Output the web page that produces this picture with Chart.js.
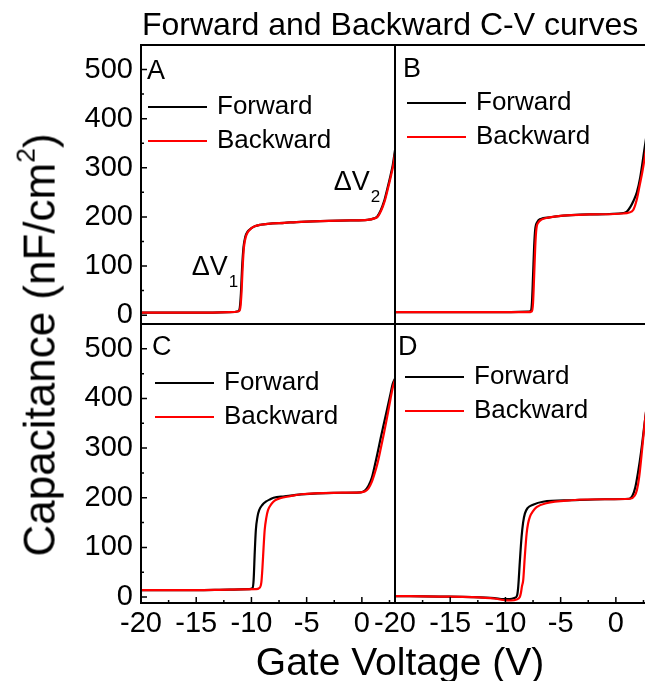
<!DOCTYPE html>
<html>
<head>
<meta charset="utf-8">
<script src="https://cdn.jsdelivr.net/npm/chart.js@4.4.1/dist/chart.umd.min.js"></script>
<style>
  body { margin: 0; background: #fff; font-family: "Liberation Sans", Arial, sans-serif; }
  #wrap { position: relative; width: 645px; height: 681px; overflow: hidden; }
  canvas { position: absolute; left: 0; top: 0; }
  .txt { position: absolute; white-space: nowrap; line-height: 1; color: #000; }
  #title { left: 142px; top: 8px; font-size: 32px; }
  #xtitle { left: 400px; top: 642px; font-size: 39px; transform: translateX(-50%); }
  #ytitle { left: 37px; top: 345px; font-size: 44px; transform: translate(-50%, -50%) rotate(-90deg); }
  #ytitle sup { font-size: 0.6em; vertical-align: 0.75em; }
</style>
</head>
<body>
<div id="wrap">
  <canvas id="pA" width="650" height="681"></canvas>
  <canvas id="pB" width="650" height="681"></canvas>
  <canvas id="pC" width="650" height="681"></canvas>
  <canvas id="pD" width="650" height="681"></canvas>
  <div class="txt" id="title">Forward and Backward C-V curves</div>
  <div class="txt" id="xtitle">Gate Voltage (V)</div>
  <div class="txt" id="ytitle">Capacitance (nF/cm<sup>2</sup>)</div>
</div>
<script>
// tick values
const xMajor = [-20, -15, -10, -5, 0];
const xMinor = [-17.5, -12.5, -7.5, -2.5, 2.5];
const yMajor = [0, 100, 200, 300, 400, 500];
const yMinor = [50, 150, 250, 350, 450];

// [gate voltage, capacitance]
const aForward = [[-20,5],[-17,5],[-14,5],[-12,6],[-11.2,8],[-11.05,16],[-10.95,45],[-10.85,95],[-10.72,138],[-10.55,160],[-10.35,170],[-10.0,177],[-9.7,181],[-9.2,184],[-8.5,186],[-7,188],[-5.5,190],[-3,192],[-1,193],[0.5,194],[1.1,197],[1.4,201],[1.7,213],[2.0,231],[2.3,257],[2.6,285],[2.8,306],[3.0,336]];
const aBackward = [[-20,5],[-17,5],[-14,5],[-12,6],[-11.15,8],[-11.0,16],[-10.9,45],[-10.8,95],[-10.68,138],[-10.5,160],[-10.3,170],[-10.0,177],[-9.7,181],[-9.2,184],[-8.5,186],[-7,188],[-5.5,190],[-3,192],[-1,193],[0.5,194],[1.15,197],[1.45,201],[1.75,213],[2.05,231],[2.35,257],[2.65,285],[2.85,306],[3.0,330]];

const bForward = [[-20,6],[-15,6],[-10,6],[-8,7],[-7.7,9],[-7.6,25],[-7.5,80],[-7.4,140],[-7.3,175],[-7.1,190],[-6.8,196],[-6,199],[-5.4,201],[-2.4,205],[0.7,208],[1.0,211],[1.3,220],[1.6,233],[1.9,250],[2.2,280],[2.6,340],[3.0,400]];
const bBackward = [[-20,6],[-15,6],[-10,6],[-8,6],[-7.6,8],[-7.5,25],[-7.4,80],[-7.3,140],[-7.2,175],[-7.0,189],[-6.7,195],[-6,199],[-5.4,201],[-2.4,205],[0.7,207],[1.2,209],[1.57,214],[1.9,236],[2.17,266],[2.4,292],[2.62,322],[3.0,380]];

const cForward = [[-20,14],[-15,14],[-12,15],[-10.2,16],[-9.9,18],[-9.8,35],[-9.7,90],[-9.6,135],[-9.45,162],[-9.3,175],[-9.0,186],[-8.7,192],[-8.3,197],[-8,200],[-7,203],[-5.5,207],[-2.5,210],[-0.1,211],[0.3,215],[0.6,224],[0.9,240],[1.1,258],[1.4,288],[1.7,320],[2.0,350],[2.3,380],[2.6,410],[2.8,430],[3.0,440]];
const cBackward = [[-20,14],[-15,14],[-12,15],[-9.6,16],[-9.3,18],[-9.1,30],[-9.0,60],[-8.9,100],[-8.8,135],[-8.65,160],[-8.5,175],[-8.2,187],[-7.9,194],[-7.4,199],[-6.5,203],[-5.5,207],[-2.5,210],[-0.1,211],[0.3,213],[0.6,219],[0.9,232],[1.1,245],[1.4,268],[1.7,298],[2.0,330],[2.3,364],[2.6,400],[2.8,422],[3.0,438]];

const dForward = [[-20,2],[-16,1],[-13,0],[-11,-2],[-10.2,-4],[-9.6,-4],[-9.2,-2],[-8.95,3],[-8.84,21],[-8.7,70],[-8.54,121],[-8.4,150],[-8.24,168],[-8.0,179],[-7.5,186],[-6.6,192],[-4,195],[-1,197],[1.2,198],[1.5,204],[1.75,220],[2.0,250],[2.3,295],[2.6,350],[3.0,420]];
const dBackward = [[-20,2],[-16,1],[-13,0],[-11,-3],[-10.2,-6],[-9.5,-7],[-9.0,-5],[-8.7,0],[-8.6,8],[-8.5,22],[-8.39,34],[-8.25,80],[-8.08,128],[-7.95,148],[-7.78,162],[-7.5,173],[-7.18,181],[-6.3,189],[-4,195],[-1,197],[1.3,198],[1.7,204],[1.9,215],[2.1,240],[2.32,285],[2.62,352],[3.0,425]];

// text labels placed at data positions in panel A
const notesA = [
  { text: "\u0394V", sub: "1", x: -15.4, y: 81 },
  { text: "\u0394V", sub: "2", x: -2.55, y: 254 }
];

const FONT = '"Liberation Sans", Arial, sans-serif';

const toXY = arr => arr.map(p => ({ x: p[0], y: p[1] }));

// frame, inward ticks, panel letter, legend and notes
const deco = {
  id: "deco",
  afterDraw(chart, args, o) {
    const ctx = chart.ctx;
    const a = chart.chartArea;
    const sx = chart.scales.x, sy = chart.scales.y;
    ctx.save();
    ctx.strokeStyle = "#000";
    ctx.lineWidth = 2;
    ctx.strokeRect(a.left, a.top, a.right - a.left, a.bottom - a.top);

    ctx.lineWidth = 1.5;
    ctx.beginPath();
    if (o.leftTicks) {
      yMajor.forEach(v => { const y = sy.getPixelForValue(v); ctx.moveTo(a.left, y); ctx.lineTo(a.left + 6, y); });
      yMinor.forEach(v => { const y = sy.getPixelForValue(v); ctx.moveTo(a.left, y); ctx.lineTo(a.left + 3, y); });
    }
    if (o.bottomTicks) {
      xMajor.forEach(v => { const x = sx.getPixelForValue(v); ctx.moveTo(x, a.bottom); ctx.lineTo(x, a.bottom - 6); });
      xMinor.forEach(v => { const x = sx.getPixelForValue(v); ctx.moveTo(x, a.bottom); ctx.lineTo(x, a.bottom - 3); });
    }
    ctx.stroke();

    ctx.fillStyle = "#000";
    ctx.textBaseline = "middle";
    ctx.textAlign = "left";
    ctx.font = "27px " + FONT;
    ctx.fillText(o.letter, a.left + o.letX, a.top + o.letY);

    ctx.font = "26px " + FONT;
    chart.data.datasets.forEach((ds, i) => {
      const y = a.top + o.legY + i * 34;
      ctx.strokeStyle = ds.borderColor;
      ctx.lineWidth = 2.2;
      ctx.beginPath();
      ctx.moveTo(a.left + o.legX, y);
      ctx.lineTo(a.left + o.legX + 59, y);
      ctx.stroke();
      ctx.fillText(ds.label, a.left + o.legX + 69, y);
    });

    (o.notes || []).forEach(n => {
      const x = sx.getPixelForValue(n.x), y = sy.getPixelForValue(n.y);
      ctx.textBaseline = "alphabetic";
      ctx.font = "27px " + FONT;
      ctx.fillText(n.text, x, y);
      const w = ctx.measureText(n.text).width;
      ctx.font = "17px " + FONT;
      ctx.fillText(n.sub, x + w + 1, y + 12);
    });
    ctx.restore();
  }
};

function panel(id, fwd, bwd, cfg) {
  new Chart(document.getElementById(id), {
    type: "line",
    data: {
      datasets: [
        { label: "Forward", data: toXY(fwd), borderColor: "#000", order: 1 },
        { label: "Backward", data: toXY(bwd), borderColor: "#ff0000", order: 0 }
      ]
    },
    options: {
      responsive: false,
      animation: false,
      elements: {
        point: { radius: 0 },
        line: { borderWidth: 2.2, cubicInterpolationMode: "monotone" }
      },
      layout: { padding: cfg.pad },
      plugins: {
        legend: { display: false },
        tooltip: { enabled: false },
        deco: cfg
      },
      scales: {
        x: {
          type: "linear", min: -20, max: 3,
          display: cfg.bottomTicks,
          grid: { display: false, drawTicks: false },
          border: { display: false },
          afterBuildTicks: s => { s.ticks = xMajor.map(v => ({ value: v })); },
          afterFit: s => { if (cfg.bottomTicks) s.height = 78; },
          ticks: { color: "#000", padding: 4, maxRotation: 0, font: { size: 29, family: FONT } }
        },
        y: {
          type: "linear", min: cfg.yMin, max: 550,
          display: cfg.leftTicks,
          grid: { display: false, drawTicks: false },
          border: { display: false },
          afterBuildTicks: s => { s.ticks = yMajor.map(v => ({ value: v })); },
          afterFit: s => { if (cfg.leftTicks) s.width = 141; },
          ticks: { color: "#000", padding: 8, font: { size: 29, family: FONT } }
        }
      }
    },
    plugins: [deco]
  });
}

panel("pA", aForward, aBackward, {
  pad: { top: 45, bottom: 357, left: 0, right: 255 }, yMin: -18,
  leftTicks: true, bottomTicks: false,
  letter: "A", letX: 6, letY: 27, legX: 7, legY: 62, notes: notesA
});
panel("pB", bForward, bBackward, {
  pad: { top: 45, bottom: 357, left: 395, right: 1 }, yMin: -18,
  leftTicks: false, bottomTicks: false,
  letter: "B", letX: 8, letY: 25, legX: 12, legY: 58
});
panel("pC", cForward, cBackward, {
  pad: { top: 324, bottom: 0, left: 0, right: 255 }, yMin: -12,
  leftTicks: true, bottomTicks: true,
  letter: "C", letX: 11, letY: 24, legX: 14, legY: 59
});
panel("pD", dForward, dBackward, {
  pad: { top: 324, bottom: 0, left: 395, right: 1 }, yMin: -12,
  leftTicks: false, bottomTicks: true,
  letter: "D", letX: 3, letY: 24, legX: 10, legY: 53
});
</script>
</body>
</html>
